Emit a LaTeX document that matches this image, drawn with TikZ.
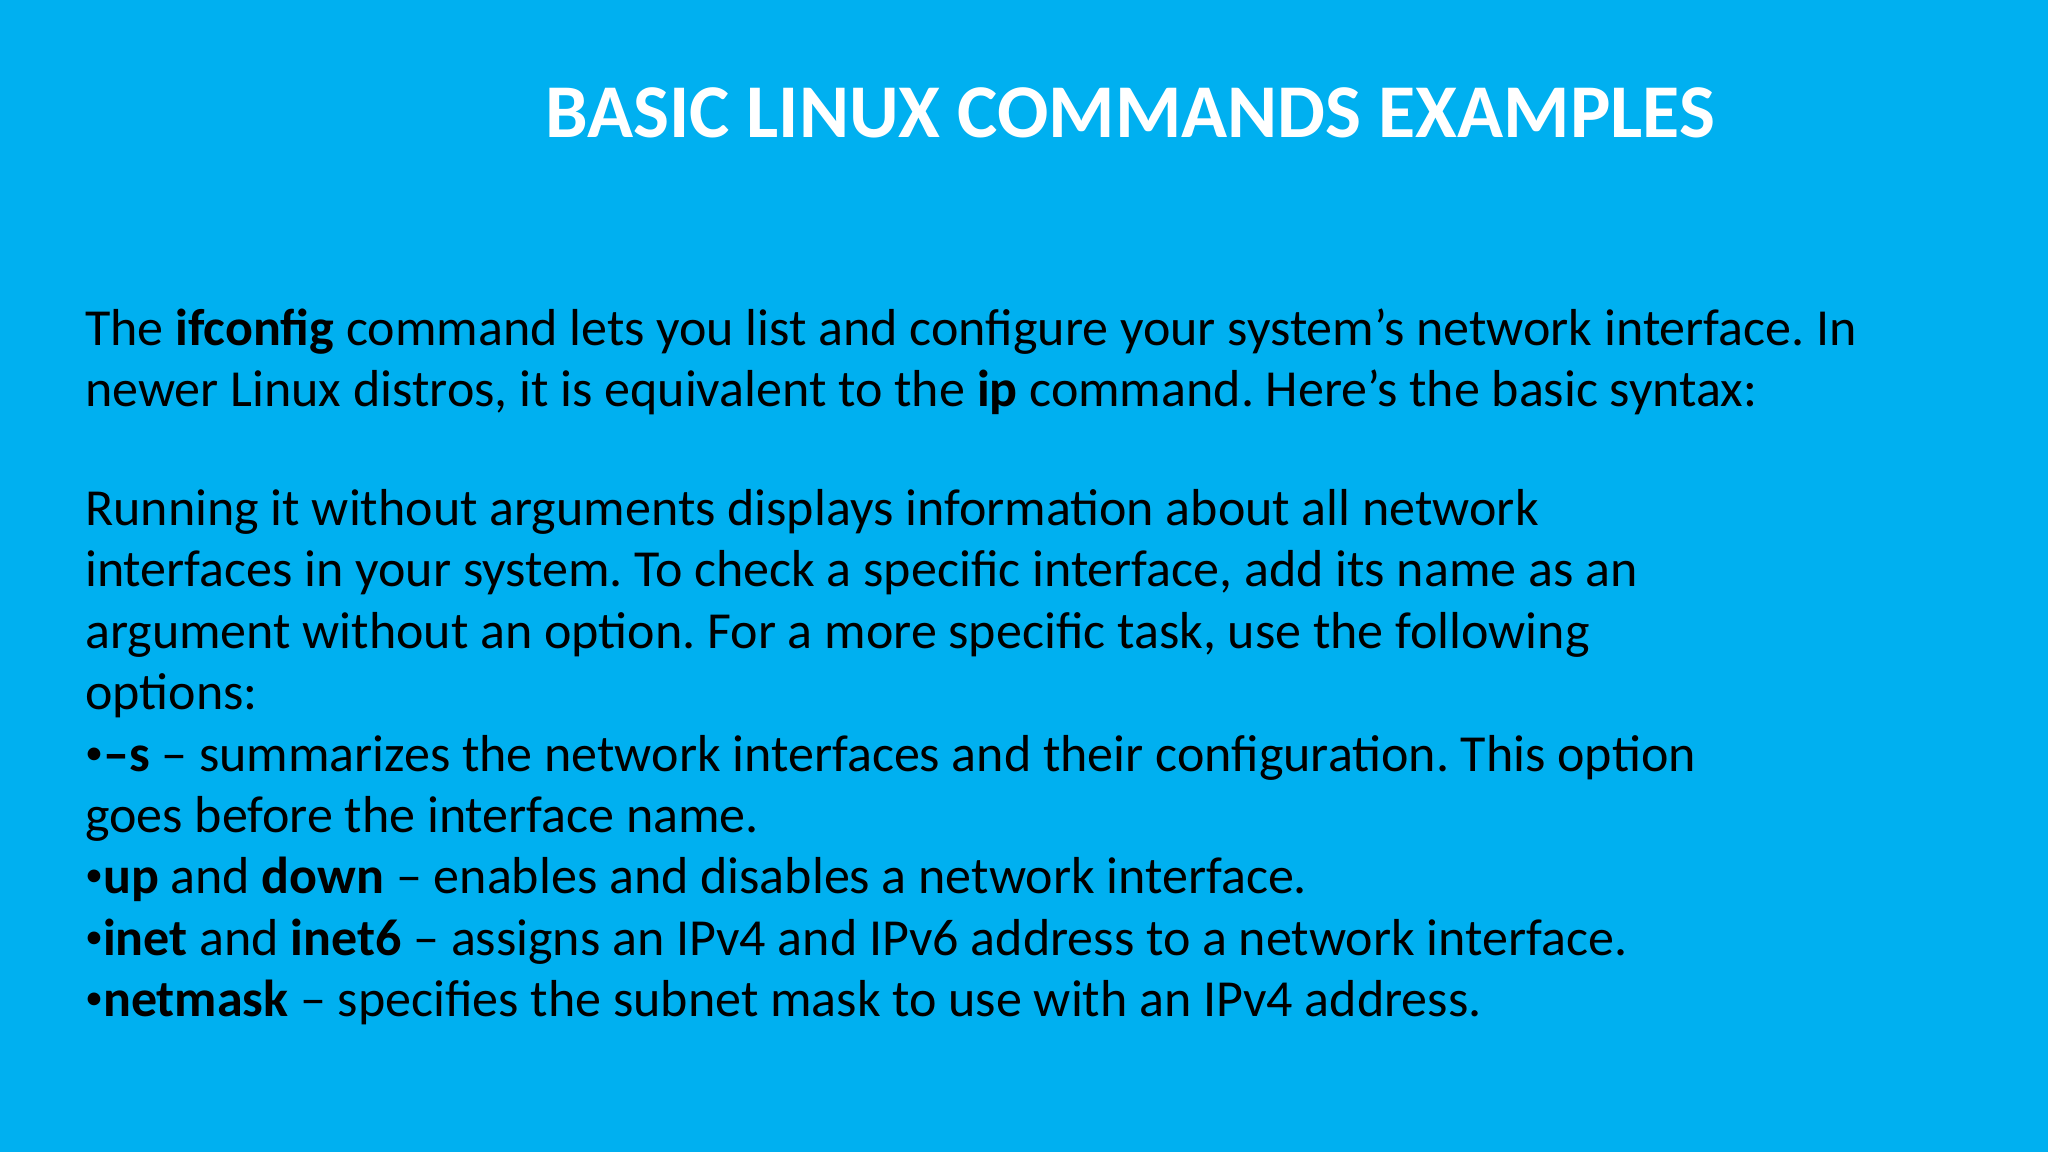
\documentclass[tikz,border=0pt]{standalone}
\usepackage{fontspec}
\setmainfont{Carlito}
\definecolor{bg}{HTML}{00B0F0}
\newcommand{\bul}{\raisebox{0.12em}{\fontsize{36}{36}\selectfont•}}
\begin{document}
\begin{tikzpicture}[x=1pt,y=-1pt,
  body/.style={anchor=base west,inner sep=0pt,font=\fontsize{52}{60}\selectfont\frenchspacing,text=black}]
\fill[bg] (0,0) rectangle (2048,1152);
\useasboundingbox (0,0) rectangle (2048,1152);
\node[anchor=base,inner sep=0pt,text=white,font=\fontsize{76}{80}\selectfont\bfseries] (title) at (1130,137) {BASIC LINUX COMMANDS EXAMPLES};
\node[body] (l1) at (85,345) {The \textbf{ifconfig} command lets you list and configure your system’s network interface. In};
\node[body] (l2) at (85,406) {newer Linux distros, it is equivalent to the \textbf{ip} command. Here’s the basic syntax:};
\node[body] (l3) at (85,525) {Running it without arguments displays information about all network};
\node[body] (l4) at (85,586) {interfaces in your system. To check a specific interface, add its name as an};
\node[body] (l5) at (85,648) {argument without an option. For a more specific task, use the following};
\node[body] (l6) at (85,709) {options:};
\node[body] (l7) at (85,771) {\bul\textbf{–s} – summarizes the network interfaces and their configuration. This option};
\node[body] (l8) at (85,832) {goes before the interface name.};
\node[body] (l9) at (85,893) {\bul\textbf{up} and \textbf{down} – enables and disables a network interface.};
\node[body] (l10) at (85,955) {\bul\textbf{inet} and \textbf{inet6} – assigns an IPv4 and IPv6 address to a network interface.};
\node[body] (l11) at (85,1016) {\bul\textbf{netmask} – specifies the subnet mask to use with an IPv4 address.};
\end{tikzpicture}
\end{document}
